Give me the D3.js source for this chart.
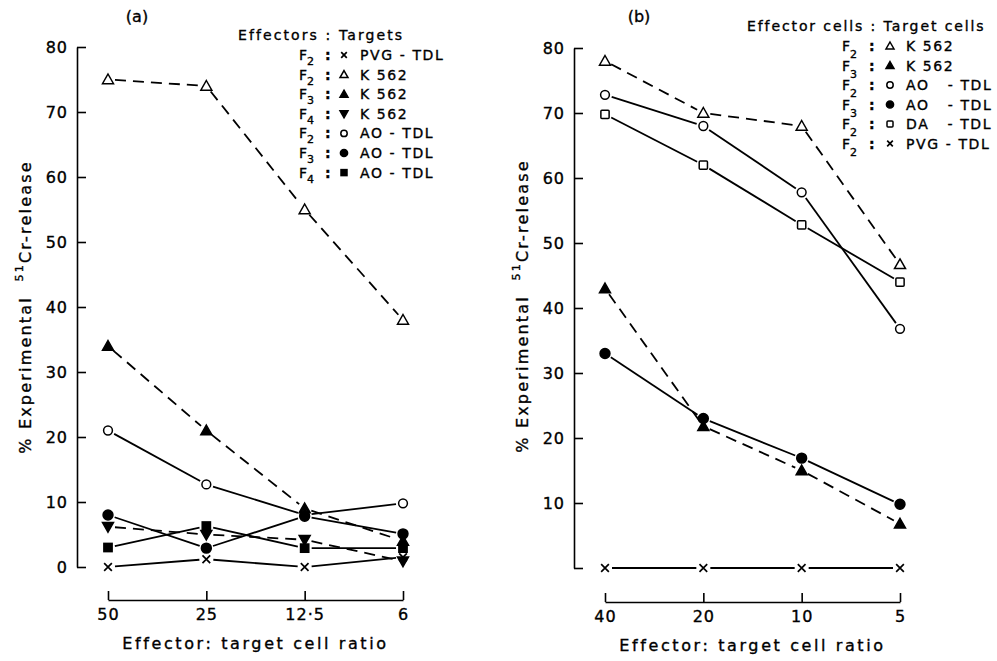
<!DOCTYPE html>
<html>
<head>
<title>51Cr release</title>
<style>
  body, html { margin: 0; padding: 0; background: #fff; }
  text { font-family: "DejaVu Sans", sans-serif; fill: #000; white-space: pre; stroke: #000; stroke-width: 0.35; }
</style>
</head>
<body>
<svg id="svg" width="997" height="661"></svg>
<script src="https://cdn.jsdelivr.net/npm/d3@7"></script>
<script>
  // ---- data, panel (a) ----
  const ratiosA = ['50', '25', '12·5', '6']
  const aF2Pvg = [0, 1.2, 0, 1.5]
  const aF2K562 = [75, 74, 55, 38]
  const aF3K562 = [34, 21, 9, 4]
  const aF4K562 = [6.2, 5, 4.2, 0.9]
  const aF2Ao = [21, 12.7, 8, 9.8]
  const aF3Ao = [8, 2.9, 7.8, 5.1]
  const aF4Ao = [3, 6.3, 2.9, 2.9]

  // ---- data, panel (b) ----
  const ratiosB = ['40', '20', '10', '5']
  const bF2K562 = [78, 70, 68, 46.7]
  const bF3K562 = [43, 21.8, 15, 6.8]
  const bF2Ao = [72.8, 68, 57.8, 36.8]
  const bF3Ao = [33, 23, 16.9, 9.8]
  const bF2Da = [69.8, 62, 52.8, 44]
  const bF2Pvg = [0, 0, 0, 0]

  const yTicksA = [0, 10, 20, 30, 40, 50, 60, 70, 80]
  const yTicksB = [0, 10, 20, 30, 40, 50, 60, 70, 80]

  const svg = d3.select('#svg')

  // draw one marker shape
  function marker(g, type, x, y, s) {
    const open = type.startsWith('open')
    const fill = open ? '#fff' : '#000'
    if (type.endsWith('TriUp') || type.endsWith('TriDown')) {
      const d = type.endsWith('TriUp') ? 1 : -1
      g.append('path')
        .attr('d', `M${x},${y - d * s}L${x + s},${y + d * s * 0.75}L${x - s},${y + d * s * 0.75}Z`)
        .attr('fill', fill).attr('stroke', '#000').attr('stroke-width', 1.5)
        .attr('stroke-linejoin', 'miter')
    } else if (type.endsWith('Circle')) {
      g.append('circle').attr('cx', x).attr('cy', y).attr('r', open ? s * 0.8 : s * 0.9)
        .attr('fill', fill).attr('stroke', '#000').attr('stroke-width', 1.5)
    } else if (type.endsWith('Square')) {
      const h = s * 0.75
      g.append('rect').attr('x', x - h).attr('y', y - h).attr('width', 2 * h).attr('height', 2 * h)
        .attr('rx', open ? 1 : 0)
        .attr('fill', fill).attr('stroke', '#000').attr('stroke-width', 1.5)
    } else if (type === 'cross') {
      const h = s * 0.7
      g.append('path')
        .attr('d', `M${x - h},${y - h}L${x + h},${y + h}M${x + h},${y - h}L${x - h},${y + h}`)
        .attr('stroke', '#000').attr('stroke-width', 1.7).attr('fill', 'none')
    }
  }

  function panel(cfg) {
    const x = d3.scalePoint().domain(cfg.cats).range(cfg.xRange)
    const y = d3.scaleLinear().domain([0, 80]).range(cfg.yRange)
    const g = svg.append('g')

    // y axis, ticks pointing inward
    const yAxis = d3.axisLeft(y)
      .tickValues(cfg.yTicks)
      .tickSizeInner(-9).tickSizeOuter(0).tickPadding(9)
      .tickFormat(d => (cfg.hideZero && d === 0) ? '' : d)
    g.append('g').attr('transform', `translate(${cfg.yAxisX},0)`).call(yAxis)

    // x axis, detached below the plot
    const xAxis = d3.axisBottom(x).tickSizeInner(-9).tickSizeOuter(0).tickPadding(9)
    g.append('g').attr('transform', `translate(0,${cfg.xAxisY})`).call(xAxis)

    g.selectAll('.domain, .tick line').attr('stroke', '#000').attr('stroke-width', 1.6)
    g.selectAll('.tick text').attr('font-size', 16).attr('font-family', '"DejaVu Sans", sans-serif')
      .attr('letter-spacing', 1).attr('fill', '#000')

    // series: segments with small gaps near the markers
    const gap = 7
    cfg.series.forEach(s => {
      const pts = s.values.map((v, i) => [x(cfg.cats[i]), y(v)])
      for (let i = 0; i < pts.length - 1; i++) {
        const [x0, y0] = pts[i], [x1, y1] = pts[i + 1]
        const len = Math.hypot(x1 - x0, y1 - y0)
        const ux = (x1 - x0) / len, uy = (y1 - y0) / len
        g.append('line')
          .attr('x1', x0 + ux * gap).attr('y1', y0 + uy * gap)
          .attr('x2', x1 - ux * gap).attr('y2', y1 - uy * gap)
          .attr('stroke', '#000').attr('stroke-width', 1.8)
          .attr('stroke-dasharray', s.dashed ? '11,7' : null)
      }
    })
    cfg.series.forEach(s => {
      s.values.forEach((v, i) => marker(g, s.mark, x(cfg.cats[i]), y(v), 5.5))
    })

    // panel letter
    g.append('text').attr('x', cfg.letterX).attr('y', 22).attr('font-size', 16)
      .attr('text-anchor', 'middle').text(cfg.letter)

    // y title
    const yt = g.append('text')
      .attr('transform', `translate(${cfg.yTitleX},${cfg.yTitleY}) rotate(-90)`)
      .attr('text-anchor', 'middle').attr('font-size', 16).attr('letter-spacing', 2.2)
    yt.append('tspan').text('% Experimental  ')
    yt.append('tspan').attr('font-size', 11).attr('dy', -8).text('51')
    yt.append('tspan').attr('dy', 8).text('Cr-release')

    // x title
    g.append('text').attr('x', d3.mean(cfg.xRange)).attr('y', cfg.xAxisY + 49)
      .attr('text-anchor', 'middle').attr('font-size', 16).attr('letter-spacing', 2.6)
      .text('Effector: target cell ratio')

    // legend
    const lg = g.append('g')
    lg.append('text').attr('x', cfg.leg.titleX).attr('y', cfg.leg.titleY)
      .attr('font-size', 14).attr('letter-spacing', cfg.leg.titleSpacing).text(cfg.leg.title)
    cfg.series.forEach((s, i) => {
      const cy = cfg.leg.rowY + i * cfg.leg.step
      const t = lg.append('text').attr('x', cfg.leg.fX).attr('y', cy + 5).attr('font-size', 14)
      t.append('tspan').text('F')
      t.append('tspan').attr('font-size', 11).attr('dy', cfg.leg.subDy).text(s.sub)
      lg.append('text').attr('x', cfg.leg.colonX).attr('y', cy + 5).attr('font-size', 14)
        .attr('font-weight', 'bold').text(':')
      marker(lg, s.mark, cfg.leg.markX, cy, 4)
      lg.append('text').attr('x', cfg.leg.labelX).attr('y', cy + 5).attr('font-size', 14)
        .attr('letter-spacing', 1.6).text(s.label)
    })
  }

  panel({
    cats: ratiosA, xRange: [108, 403], yRange: [567, 47], yTicks: yTicksA, hideZero: false,
    yAxisX: 77, xAxisY: 600, letter: '(a)', letterX: 137, yTitleX: 31, yTitleY: 307,
    series: [
      { values: aF2Pvg, mark: 'cross', dashed: false, sub: '2', label: 'PVG - TDL' },
      { values: aF2K562, mark: 'openTriUp', dashed: true, sub: '2', label: 'K 562' },
      { values: aF3K562, mark: 'fillTriUp', dashed: true, sub: '3', label: 'K 562' },
      { values: aF4K562, mark: 'fillTriDown', dashed: true, sub: '4', label: 'K 562' },
      { values: aF2Ao, mark: 'openCircle', dashed: false, sub: '2', label: 'AO - TDL' },
      { values: aF3Ao, mark: 'fillCircle', dashed: false, sub: '3', label: 'AO - TDL' },
      { values: aF4Ao, mark: 'fillSquare', dashed: false, sub: '4', label: 'AO - TDL' }
    ],
    leg: { title: 'Effectors : Targets', titleX: 238, titleY: 40, titleSpacing: 2.1,
      fX: 299, colonX: 325, markX: 344, labelX: 360, rowY: 55, step: 19.6, subDy: 5 }
  })

  panel({
    cats: ratiosB, xRange: [605, 900], yRange: [568, 48], yTicks: yTicksB, hideZero: true,
    yAxisX: 574, xAxisY: 602, letter: '(b)', letterX: 639, yTitleX: 528, yTitleY: 306,
    series: [
      { values: bF2K562, mark: 'openTriUp', dashed: true, sub: '2', label: 'K 562' },
      { values: bF3K562, mark: 'fillTriUp', dashed: true, sub: '3', label: 'K 562' },
      { values: bF2Ao, mark: 'openCircle', dashed: false, sub: '2', label: 'AO   - TDL' },
      { values: bF3Ao, mark: 'fillCircle', dashed: false, sub: '3', label: 'AO   - TDL' },
      { values: bF2Da, mark: 'openSquare', dashed: false, sub: '2', label: 'DA   - TDL' },
      { values: bF2Pvg, mark: 'cross', dashed: false, sub: '2', label: 'PVG - TDL' }
    ],
    leg: { title: 'Effector cells : Target cells', titleX: 747, titleY: 31, titleSpacing: 1.9,
      fX: 842, colonX: 869, markX: 890, labelX: 906, rowY: 46, step: 19.5, subDy: 7 }
  })
</script>
</body>
</html>
